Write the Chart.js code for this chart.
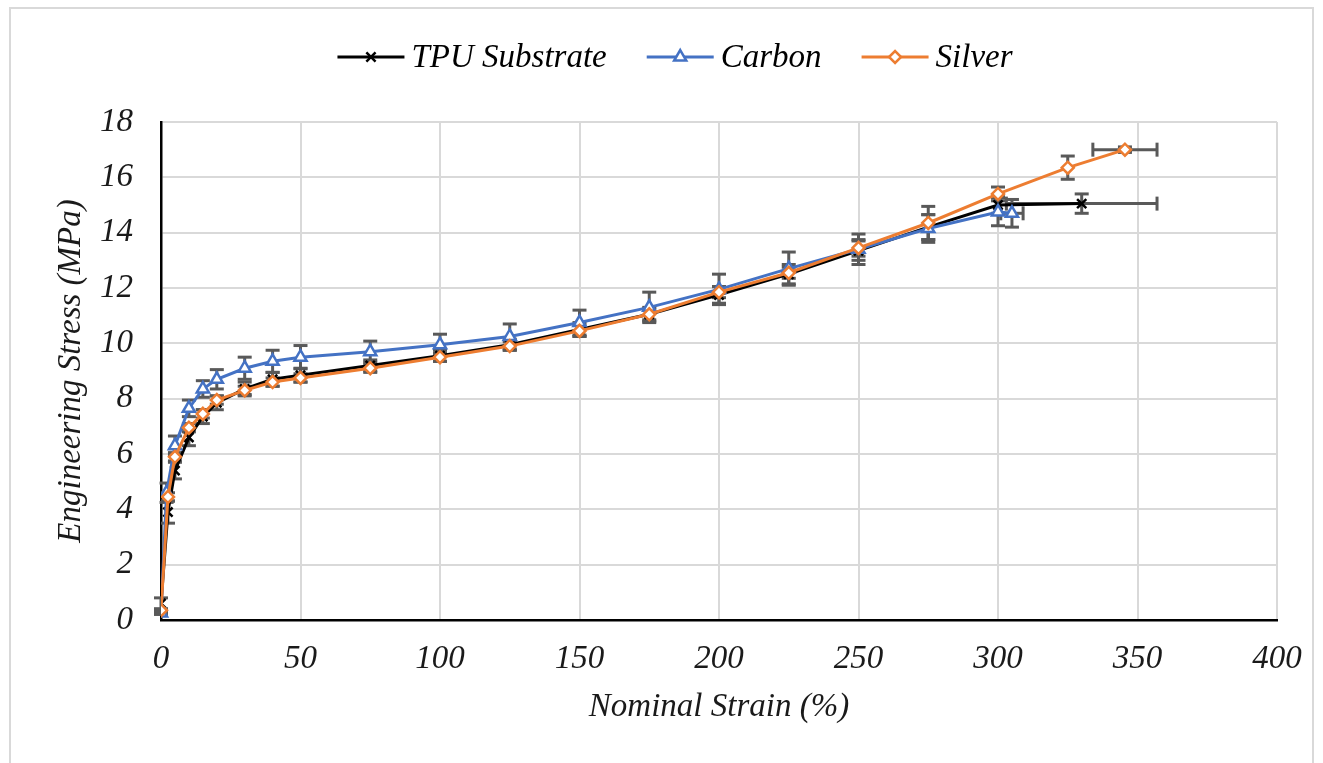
<!DOCTYPE html>
<html>
<head>
<meta charset="utf-8">
<script src="https://cdn.jsdelivr.net/npm/chart.js@4.4.1/dist/chart.umd.min.js"></script>
<style>
  html, body { margin: 0; padding: 0; background: #fff; }
  #wrap { position: relative; width: 1323px; height: 763px; overflow: hidden; }
  #frame { position: absolute; left: 9px; top: 7px; width: 1305px; height: 800px; border: 2px solid #d9d9d9; box-sizing: border-box; }
  #chart { position: absolute; left: 0; top: 0; }
</style>
</head>
<body>
<div id="wrap">
  <div id="frame"></div>
  <canvas id="chart" width="1323" height="763"></canvas>
</div>
<script>
// values
const tpuStrain = [0, 2.5, 5, 10, 15, 20, 30, 40, 50, 75, 100, 125, 150, 175, 200, 225, 250, 275, 300, 330];
const tpuStress = [0.6, 3.9, 5.4, 6.6, 7.35, 7.85, 8.35, 8.7, 8.85, 9.2, 9.55, 9.95, 10.5, 11.05, 11.75, 12.5, 13.35, 14.2, 15.0, 15.05];
const tpuStressErr = [0.2, 0.4, 0.3, 0.3, 0.25, 0.25, 0.25, 0.25, 0.25, 0.2, 0.2, 0.2, 0.25, 0.25, 0.3, 0.35, 0.35, 0.45, 0.3, 0.35];
const tpuStrainErr = [0, 0, 0, 0, 0, 0, 0, 0, 0, 0, 0, 0, 0, 0, 0, 0, 0, 0, 0, 27];

const carbonStrain = [0, 2, 5, 10, 15, 20, 30, 40, 50, 75, 100, 125, 150, 175, 200, 225, 250, 275, 300, 305];
const carbonStress = [0.25, 4.6, 6.3, 7.65, 8.35, 8.7, 9.1, 9.35, 9.5, 9.7, 9.95, 10.25, 10.75, 11.3, 11.95, 12.7, 13.4, 14.15, 14.75, 14.7];
const carbonStressErr = [0.05, 0.35, 0.35, 0.3, 0.3, 0.35, 0.4, 0.4, 0.42, 0.38, 0.38, 0.45, 0.45, 0.55, 0.55, 0.6, 0.55, 0.5, 0.5, 0.5];
const carbonStrainErr = [0, 0, 0, 0, 0, 0, 0, 0, 0, 0, 0, 0, 0, 0, 0, 0, 0, 0, 0, 4];

const silverStrain = [0, 2.5, 5, 10, 15, 20, 30, 40, 50, 75, 100, 125, 150, 175, 200, 225, 250, 275, 300, 325, 345.5];
const silverStress = [0.35, 4.45, 5.9, 6.95, 7.45, 7.95, 8.3, 8.6, 8.75, 9.1, 9.5, 9.9, 10.45, 11.05, 11.85, 12.55, 13.45, 14.35, 15.4, 16.35, 17.0];
const silverStressErr = [0.05, 0.15, 0.15, 0.15, 0.15, 0.15, 0.15, 0.15, 0.15, 0.15, 0.15, 0.15, 0.2, 0.2, 0.2, 0.2, 0.3, 0.6, 0.25, 0.42, 0.1];
const silverStrainErr = [0, 0, 0, 0, 0, 0, 0, 0, 0, 0, 0, 0, 0, 0, 0, 0, 0, 0, 0, 0, 11.5];

const seriesNames = ['TPU Substrate', 'Carbon', 'Silver'];
const xTicks = [0, 50, 100, 150, 200, 250, 300, 350, 400];
const yTicks = [0, 2, 4, 6, 8, 10, 12, 14, 16, 18];

const serif = "'Liberation Serif', 'Times New Roman', serif";

function toPoints(xs, ys) {
  return xs.map(function (x, i) { return { x: x, y: ys[i] }; });
}

// error bars drawn with the chart's own scales
const errorBars = {
  id: 'errorBars',
  beforeDatasetsDraw(chart) {
    const ctx = chart.ctx;
    const sx = chart.scales.x, sy = chart.scales.y;
    const cap = 7;
    ctx.save();
    ctx.strokeStyle = '#595959';
    ctx.lineWidth = 3;
    function seg(x1, y1, x2, y2) {
      ctx.beginPath(); ctx.moveTo(x1, y1); ctx.lineTo(x2, y2); ctx.stroke();
    }
    chart.data.datasets.forEach(function (ds) {
      ds.data.forEach(function (p, i) {
        const px = sx.getPixelForValue(p.x);
        const py = sy.getPixelForValue(p.y);
        const e = ds.yErr[i];
        if (e > 0) {
          const t = sy.getPixelForValue(p.y + e), b = sy.getPixelForValue(p.y - e);
          seg(px, t, px, b);
          seg(px - cap, t, px + cap, t);
          seg(px - cap, b, px + cap, b);
        }
        const h = ds.xErr[i];
        if (h > 0) {
          const l = sx.getPixelForValue(p.x - h), r = sx.getPixelForValue(p.x + h);
          seg(l, py, r, py);
          seg(l, py - cap, l, py + cap);
          seg(r, py - cap, r, py + cap);
        }
      });
    });
    ctx.restore();
  }
};

// legend: line sample with marker, like the original
const lineLegend = {
  id: 'lineLegend',
  afterDraw(chart) {
    const ctx = chart.ctx;
    const sample = 67, gapText = 7, gapItem = 40, cy = 57;
    ctx.save();
    ctx.font = 'italic 33px ' + serif;
    ctx.textBaseline = 'middle';
    const items = chart.data.datasets.slice().sort(function (a, b) { return a.legendIndex - b.legendIndex; });
    let total = 0;
    items.forEach(function (ds, i) {
      total += sample + gapText + ctx.measureText(ds.label).width;
      if (i < items.length - 1) total += gapItem;
    });
    let x = 675 - total / 2;
    items.forEach(function (ds) {
      ctx.strokeStyle = ds.borderColor;
      ctx.lineWidth = 3;
      ctx.beginPath(); ctx.moveTo(x, cy); ctx.lineTo(x + sample, cy); ctx.stroke();
      ctx.fillStyle = ds.pointBackgroundColor;
      ctx.strokeStyle = ds.pointBorderColor;
      ctx.lineWidth = ds.pointBorderWidth;
      Chart.helpers.drawPoint(ctx, {
        pointStyle: ds.pointStyle, radius: ds.pointRadius, borderWidth: ds.pointBorderWidth, rotation: 0
      }, x + sample / 2, cy);
      x += sample + gapText;
      ctx.fillStyle = '#000';
      ctx.fillText(ds.label, x, cy + 1);
      x += ctx.measureText(ds.label).width + gapItem;
    });
    ctx.restore();
  }
};

new Chart(document.getElementById('chart'), {
  type: 'scatter',
  data: {
    datasets: [
      {
        label: seriesNames[2], legendIndex: 2, order: 0,
        data: toPoints(silverStrain, silverStress),
        yErr: silverStressErr, xErr: silverStrainErr,
        showLine: true, borderColor: '#ED7D31', borderWidth: 3,
        pointStyle: 'rectRot', pointRadius: 6, pointBorderWidth: 2.5,
        pointBackgroundColor: '#fff', pointBorderColor: '#ED7D31'
      },
      {
        label: seriesNames[1], legendIndex: 1, order: 1,
        data: toPoints(carbonStrain, carbonStress),
        yErr: carbonStressErr, xErr: carbonStrainErr,
        showLine: true, borderColor: '#4472C4', borderWidth: 3,
        pointStyle: 'triangle', pointRadius: 7, pointBorderWidth: 2.5,
        pointBackgroundColor: '#fff', pointBorderColor: '#4472C4'
      },
      {
        label: seriesNames[0], legendIndex: 0, order: 2,
        data: toPoints(tpuStrain, tpuStress),
        yErr: tpuStressErr, xErr: tpuStrainErr,
        showLine: true, borderColor: '#000', borderWidth: 3,
        pointStyle: 'crossRot', pointRadius: 6.5, pointBorderWidth: 2.5,
        pointBackgroundColor: '#000', pointBorderColor: '#000'
      }
    ]
  },
  options: {
    responsive: false,
    animation: false,
    devicePixelRatio: 1,
    layout: { padding: { left: 40, right: 46, top: 122, bottom: 0 } },
    plugins: { legend: { display: false }, tooltip: { enabled: false } },
    elements: { line: { tension: 0 } },
    scales: {
      x: {
        type: 'linear', min: 0, max: 400,
        afterBuildTicks: function (s) { s.ticks = xTicks.map(function (v) { return { value: v }; }); },
        afterFit: function (s) { s.height = 143; },
        ticks: { font: { family: serif, size: 33, style: 'italic' }, color: '#1a1a1a', padding: 20 },
        grid: { color: '#d9d9d9', lineWidth: 2, drawTicks: false },
        border: { color: '#000', width: 2.5 },
        title: {
          display: true, text: 'Nominal Strain (%)', color: '#1a1a1a',
          font: { family: serif, size: 33, style: 'italic', lineHeight: 1.2 },
          padding: { top: 0, bottom: 36 }
        }
      },
      y: {
        type: 'linear', min: 0, max: 18,
        afterBuildTicks: function (s) { s.ticks = yTicks.map(function (v) { return { value: v }; }); },
        afterFit: function (s) { s.width = 121; },
        ticks: { font: { family: serif, size: 33, style: 'italic' }, color: '#1a1a1a', padding: 28 },
        grid: { color: '#d9d9d9', lineWidth: 2, drawTicks: false },
        border: { color: '#000', width: 2.5 },
        title: {
          display: true, text: 'Engineering Stress (MPa)', color: '#1a1a1a',
          font: { family: serif, size: 33, style: 'italic', lineHeight: 1.2 },
          padding: { top: 12, bottom: 0 }
        }
      }
    }
  },
  plugins: [errorBars, lineLegend]
});
</script>
</body>
</html>
